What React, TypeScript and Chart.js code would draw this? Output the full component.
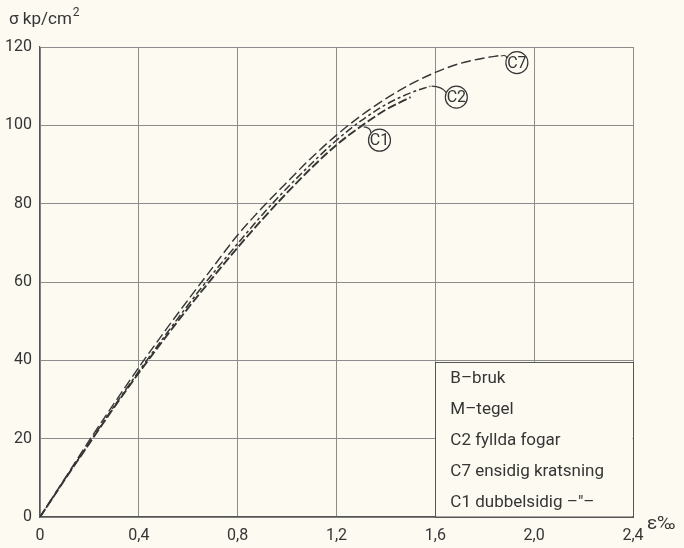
import React, { useEffect, useRef } from "react";
import { Chart, registerables } from "chart.js";

Chart.register(...registerables);

// ---- data (ε in ‰, σ in kp/cm²) ----
const strainC7 = [0, 0.1, 0.2, 0.3, 0.4, 0.5, 0.6, 0.7, 0.8, 0.9, 1.0, 1.1, 1.2, 1.3, 1.4, 1.5, 1.6, 1.7, 1.8, 1.86];
const stressC7 = [0, 9.8, 19.6, 29, 38.2, 47, 55.5, 63.8, 72, 79, 85.5, 91.8, 97.5, 102.5, 106.8, 110.5, 113.5, 115.8, 117.2, 117.8];

const strainC2 = [0, 0.1, 0.2, 0.3, 0.4, 0.5, 0.6, 0.7, 0.8, 0.9, 1.0, 1.1, 1.2, 1.3, 1.4, 1.5, 1.58];
const stressC2 = [0, 9.6, 19, 28.3, 37.2, 45.8, 54.2, 62.2, 69.8, 77.2, 84, 90.3, 96.2, 101.2, 105.3, 108.3, 110];

const strainC1 = [0, 0.1, 0.2, 0.3, 0.4, 0.5, 0.6, 0.7, 0.8, 0.9, 1.0, 1.1, 1.2, 1.3, 1.4, 1.5];
const stressC1 = [0, 9.5, 18.8, 28, 36.8, 45.2, 53.4, 61.2, 68.8, 76, 82.8, 89.2, 95, 99.8, 104, 107.2];

const xTicks = [0, 0.4, 0.8, 1.2, 1.6, 2.0, 2.4];
const yTicks = [0, 20, 40, 60, 80, 100, 120];

const curveNames = ["C7", "C2", "C1"];
// label circle centre and leader start (data units)
const labelCentreX = [1.93, 1.685, 1.374];
const labelCentreY = [116, 107.2, 96.2];
const leaderFromX = [1.865, 1.585, 1.31];
const leaderFromY = [117.7, 110, 99.6];

const legendLines = [
  "B\u2013bruk",
  "M\u2013tegel",
  "C2 fyllda fogar",
  "C7 ensidig kratsning",
  "C1 dubbelsidig \u2013\u2033\u2013",
];
const legendBoxX = [1.6, 2.4];
const legendBoxY = [0, 39.6];

const yTitle = "\u03c3 kp/cm";
const xTitle = "\u03b5\u2030";

const FONT = "Roboto, 'DejaVu Sans', sans-serif";
const INK = "#353535";

const toPoints = (xs: number[], ys: number[]) => xs.map((x, i) => ({ x, y: ys[i] }));

const paperPlugin = {
  id: "paper",
  beforeDraw(chart: any) {
    const { ctx, width, height } = chart;
    ctx.save();
    ctx.fillStyle = "#fcfaf1";
    ctx.fillRect(0, 0, width, height);
    ctx.restore();
  },
  afterDatasetsDraw(chart: any) {
    const { ctx } = chart;
    const xs = chart.scales.x;
    const ys = chart.scales.y;
    ctx.save();

    // legend box
    const bx0 = xs.getPixelForValue(legendBoxX[0]);
    const bx1 = xs.getPixelForValue(legendBoxX[1]);
    const by0 = ys.getPixelForValue(legendBoxY[1]);
    const by1 = ys.getPixelForValue(legendBoxY[0]);
    ctx.fillStyle = "#fcfaf1";
    ctx.fillRect(bx0 + 0.5, by0 + 0.5, bx1 - bx0 - 1, by1 - by0 - 1);
    ctx.strokeStyle = "#555";
    ctx.lineWidth = 1;
    ctx.strokeRect(Math.round(bx0) + 0.5, Math.round(by0) + 0.5, Math.round(bx1 - bx0), Math.round(by1 - by0));
    ctx.fillStyle = INK;
    ctx.font = `17px ${FONT}`;
    ctx.textAlign = "left";
    ctx.textBaseline = "middle";
    const step = (by1 - by0) / legendLines.length;
    legendLines.forEach((t, i) => {
      ctx.fillText(t, bx0 + 15, by0 + step * (i + 0.5) + 1);
    });

    // circled curve labels with leaders
    ctx.lineWidth = 1.2;
    ctx.strokeStyle = INK;
    curveNames.forEach((name, i) => {
      const cx = xs.getPixelForValue(labelCentreX[i]);
      const cy = ys.getPixelForValue(labelCentreY[i]);
      const lx = xs.getPixelForValue(leaderFromX[i]);
      const ly = ys.getPixelForValue(leaderFromY[i]);
      const r = 11;
      const ang = Math.atan2(ly - cy, lx - cx);
      const ex = cx + Math.cos(ang) * r;
      const ey = cy + Math.sin(ang) * r;
      ctx.beginPath();
      ctx.moveTo(lx, ly);
      ctx.quadraticCurveTo((lx + ex) / 2 + 3, (ly + ey) / 2 - 3, ex, ey);
      ctx.stroke();
      ctx.beginPath();
      ctx.arc(cx, cy, r, 0, Math.PI * 2);
      ctx.stroke();
      ctx.font = `16px ${FONT}`;
      ctx.textAlign = "center";
      ctx.textBaseline = "middle";
      ctx.fillText(name, cx, cy + 1);
    });

    // axis titles
    ctx.textAlign = "left";
    ctx.textBaseline = "alphabetic";
    ctx.font = `17px ${FONT}`;
    ctx.fillText(yTitle, 9, 24);
    const w = ctx.measureText(yTitle).width;
    ctx.font = `12px ${FONT}`;
    ctx.fillText("2", 9 + w + 1, 16);
    ctx.font = `19px ${FONT}`;
    ctx.fillText(xTitle, xs.right + 14, ys.bottom + 12);
    ctx.restore();
  },
};

export default function App() {
  const ref = useRef<HTMLCanvasElement | null>(null);

  useEffect(() => {
    if (!ref.current) return;
    const common = {
      showLine: true,
      fill: false,
      pointRadius: 0,
      borderColor: INK,
      cubicInterpolationMode: "monotone" as const,
    };
    const chart = new Chart(ref.current, {
      type: "scatter",
      data: {
        datasets: [
          { ...common, label: "C7", data: toPoints(strainC7, stressC7), borderWidth: 1.4, borderDash: [10, 4] },
          { ...common, label: "C2", data: toPoints(strainC2, stressC2), borderWidth: 1.5, borderDash: [8, 3, 3, 3] },
          { ...common, label: "C1", data: toPoints(strainC1, stressC1), borderWidth: 1.9, borderDash: [9, 3] },
        ],
      },
      options: {
        responsive: false,
        animation: false,
        layout: { padding: { top: 47, right: 51, left: 0, bottom: 0 } },
        plugins: { legend: { display: false }, tooltip: { enabled: false } },
        scales: {
          x: {
            type: "linear",
            min: 0,
            max: 2.4,
            afterBuildTicks: (s: any) => {
              s.ticks = xTicks.map((v) => ({ value: v }));
            },
            afterFit: (s: any) => {
              s.height = 31;
            },
            ticks: {
              color: INK,
              font: { family: FONT, size: 16 },
              padding: 9,
              maxRotation: 0,
              autoSkip: false,
              callback: (v: any) => (Number(v) === 0 ? "0" : Number(v).toFixed(1).replace(".", ",")),
            },
            grid: { color: "#8c8c8c", lineWidth: 1, drawTicks: false },
            border: { color: "#555", width: 1.2 },
          },
          y: {
            type: "linear",
            min: 0,
            max: 120,
            afterBuildTicks: (s: any) => {
              s.ticks = yTicks.map((v) => ({ value: v }));
            },
            afterFit: (s: any) => {
              s.width = 40;
            },
            ticks: {
              color: INK,
              font: { family: FONT, size: 16 },
              padding: 8,
              autoSkip: false,
              callback: (v: any) => String(v),
            },
            grid: { color: "#8c8c8c", lineWidth: 1, drawTicks: false },
            border: { color: "#555", width: 1.2 },
          },
        },
      },
      plugins: [paperPlugin],
    });
    return () => chart.destroy();
  }, []);

  return (
    <div style={{ position: "fixed", left: 0, top: 0, width: 684, height: 548 }}>
      <canvas ref={ref} width={684} height={548} style={{ display: "block" }} />
    </div>
  );
}
